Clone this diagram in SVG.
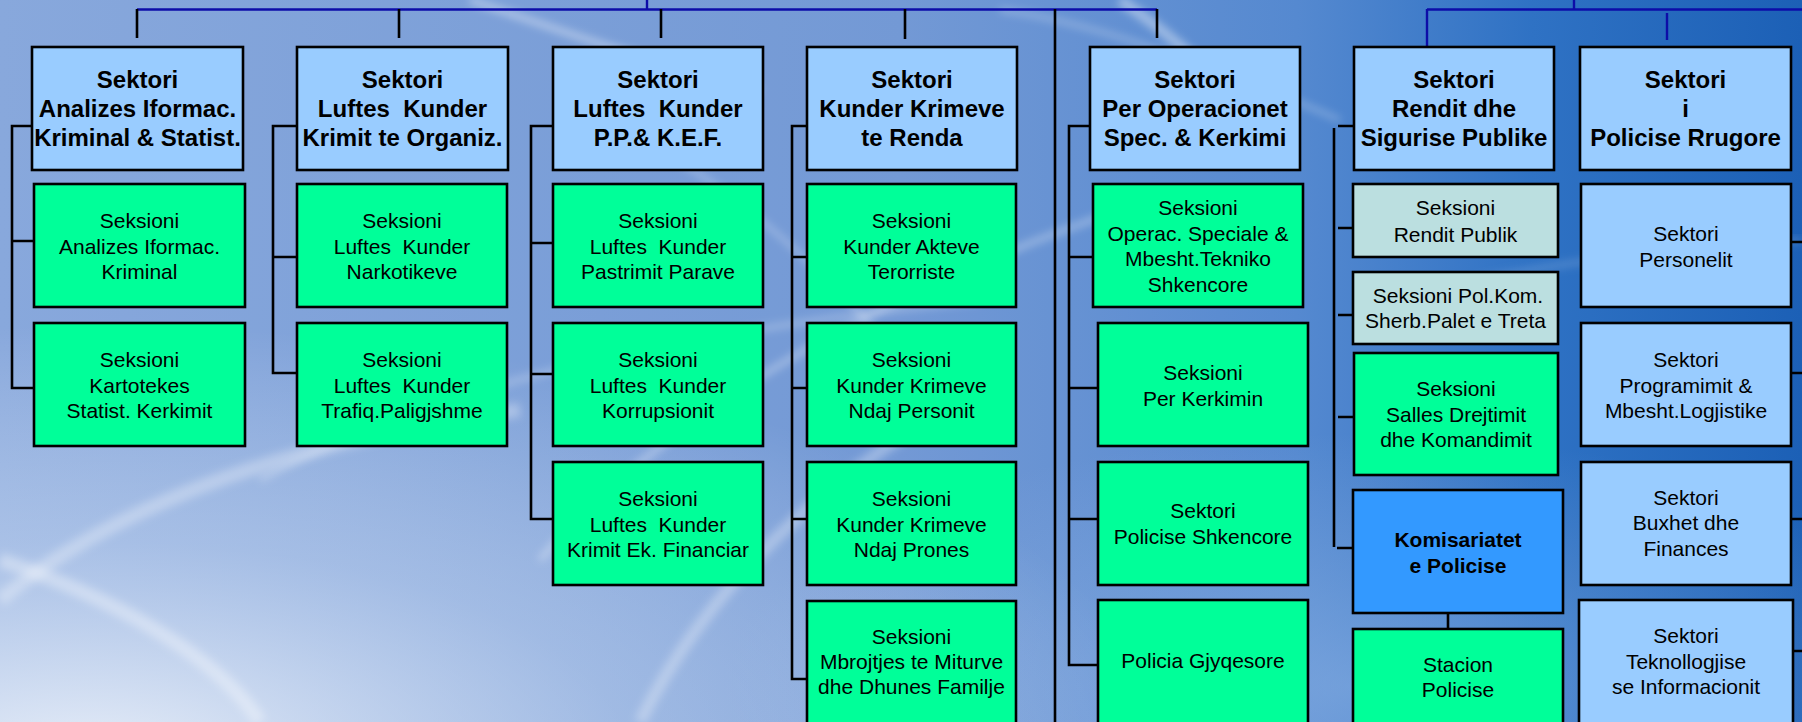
<svg xmlns="http://www.w3.org/2000/svg" width="1802" height="722" viewBox="0 0 1802 722">
<defs>
<linearGradient id="bg" x1="0" y1="0" x2="1" y2="0">
<stop offset="0" stop-color="#88a8dc"/>
<stop offset="0.5" stop-color="#7399d5"/>
<stop offset="0.72" stop-color="#5589d0"/>
<stop offset="0.85" stop-color="#2f72c4"/>
<stop offset="1" stop-color="#1c60b6"/>
</linearGradient>
<radialGradient id="glowBL" cx="0.05" cy="1.05" r="0.6" gradientUnits="objectBoundingBox">
<stop offset="0" stop-color="#ffffff" stop-opacity="0.8"/>
<stop offset="0.5" stop-color="#e6eefa" stop-opacity="0.35"/>
<stop offset="1" stop-color="#ffffff" stop-opacity="0"/>
</radialGradient>
<radialGradient id="glowBR" cx="0.75" cy="0.95" r="0.35">
<stop offset="0" stop-color="#9fc0ea" stop-opacity="0.45"/>
<stop offset="1" stop-color="#9fc0ea" stop-opacity="0"/>
</radialGradient>
<filter id="soft" x="-10%" y="-10%" width="120%" height="120%">
<feGaussianBlur stdDeviation="4"/>
</filter>
<style>
.hdr{fill:#99ccff;stroke:#000;stroke-width:2.6}
.sec{fill:#00ff99;stroke:#000;stroke-width:2.6}
.cyan{fill:#bbdfe0;stroke:#000;stroke-width:2.6}
.lb{fill:#99ccff;stroke:#000;stroke-width:2.6}
.kom{fill:#3399ff;stroke:#000;stroke-width:2.6}
.th{font-family:"Liberation Sans",Arial,sans-serif;font-weight:bold;font-size:24px;fill:#000;text-anchor:middle}
.ts{font-family:"Liberation Sans",Arial,sans-serif;font-size:21px;fill:#000;text-anchor:middle}
.tb{font-family:"Liberation Sans",Arial,sans-serif;font-weight:bold;font-size:21px;fill:#000;text-anchor:middle}
.blue{stroke:#0d0da8;stroke-width:2.4;fill:none}
.blk{stroke:#000;stroke-width:2.6;fill:none}
.sw{fill:none;stroke:#ffffff;filter:url(#soft)}
</style>
</defs>

<g id="background">
<rect x="0" y="0" width="1802" height="722" fill="url(#bg)"/>
<rect x="0" y="0" width="1802" height="722" fill="url(#glowBR)"/>
<rect x="0" y="0" width="1802" height="722" fill="url(#glowBL)"/>
<path class="sw" d="M470 0 C 560 30, 640 60, 760 90" stroke-width="6" stroke-opacity="0.45"/>
<path class="sw" d="M1120 0 C 1180 40, 1230 90, 1280 140" stroke-width="10" stroke-opacity="0.4"/>
<path class="sw" d="M1000 10 C 1080 20, 1200 60, 1340 120" stroke-width="4" stroke-opacity="0.35"/>
<path class="sw" d="M600 120 C 700 160, 820 260, 900 360" stroke-width="4" stroke-opacity="0.35"/>
<path class="sw" d="M540 560 C 660 420, 860 300, 1120 210" stroke-width="6" stroke-opacity="0.35"/>
<path class="sw" d="M260 480 C 440 380, 700 330, 980 300" stroke-width="5" stroke-opacity="0.3"/>
<path class="sw" d="M0 600 C 120 500, 300 440, 520 410" stroke-width="14" stroke-opacity="0.3"/>
<path class="sw" d="M640 722 C 700 600, 820 470, 1000 380" stroke-width="12" stroke-opacity="0.3"/>
<path class="sw" d="M0 560 C 120 600, 220 660, 260 722" stroke-width="14" stroke-opacity="0.35"/>
<path class="sw" d="M1400 300 C 1500 270, 1640 250, 1802 240" stroke-width="4" stroke-opacity="0.25"/>
</g>

<g id="connectors">
<line class="blue" x1="137" y1="9.5" x2="1157" y2="9.5"/>
<line class="blue" x1="647" y1="0" x2="647" y2="9.5"/>
<line class="blk" x1="137" y1="9" x2="137" y2="38"/>
<line class="blk" x1="399" y1="9" x2="399" y2="38"/>
<line class="blk" x1="661" y1="9" x2="661" y2="38"/>
<line class="blk" x1="905" y1="9" x2="905" y2="39"/>
<line class="blk" x1="1157" y1="9" x2="1157" y2="38"/>
<line class="blk" x1="1055" y1="9" x2="1055" y2="722"/>
<line class="blue" x1="1427" y1="9.5" x2="1802" y2="9.5"/>
<line class="blue" x1="1574" y1="0" x2="1574" y2="9.5"/>
<line class="blue" x1="1427" y1="9" x2="1427" y2="47"/>
<line class="blue" x1="1667" y1="13" x2="1667" y2="40"/>
<path class="blk" d="M32 126 H12 V388 H34 M12 241 H34"/>
<path class="blk" d="M297 126 H273 V373 H297 M273 257 H297"/>
<path class="blk" d="M553 126 H531 V519 H553 M531 243 H553 M531 374 H553"/>
<path class="blk" d="M807 126 H792 V679 H807 M792 257 H807 M792 388 H807 M792 519 H807"/>
<path class="blk" d="M1090 126 H1069 V665 H1098 M1069 257 H1093 M1069 388 H1098 M1069 519 H1098"/>
<path class="blk" d="M1334 128 V547 M1338 126 H1354 M1338 228 H1353 M1338 315 H1353 M1338 417 H1354 M1337 548 H1352"/>
<path class="blk" d="M1448 613 V629"/>
<path class="blk" d="M1791 242 H1802 M1791 373 H1802 M1791 519 H1802 M1793 651 H1802"/>
</g>

<g id="n-c1-head"><rect class="hdr" x="32" y="47" width="211" height="123"/>
<text class="th" x="137.5" y="88">Sektori</text><text class="th" x="137.5" y="117">Analizes Iformac.</text><text class="th" x="137.5" y="146">Kriminal &amp; Statist.</text></g>
<g id="n-c1-s1"><rect class="sec" x="34" y="184" width="211" height="123"/>
<text class="ts" x="139.5" y="228">Seksioni</text><text class="ts" x="139.5" y="254">Analizes Iformac.</text><text class="ts" x="139.5" y="279">Kriminal</text></g>
<g id="n-c1-s2"><rect class="sec" x="34" y="323" width="211" height="123"/>
<text class="ts" x="139.5" y="367">Seksioni</text><text class="ts" x="139.5" y="393">Kartotekes</text><text class="ts" x="139.5" y="418">Statist. Kerkimit</text></g>

<g id="n-c2-head"><rect class="hdr" x="297" y="47" width="211" height="123"/>
<text class="th" x="402.5" y="88">Sektori</text><text class="th" x="402.5" y="117" xml:space="preserve">Luftes  Kunder</text><text class="th" x="402.5" y="146">Krimit te Organiz.</text></g>
<g id="n-c2-s1"><rect class="sec" x="297" y="184" width="210" height="123"/>
<text class="ts" x="402" y="228">Seksioni</text><text class="ts" x="402" y="254" xml:space="preserve">Luftes  Kunder</text><text class="ts" x="402" y="279">Narkotikeve</text></g>
<g id="n-c2-s2"><rect class="sec" x="297" y="323" width="210" height="123"/>
<text class="ts" x="402" y="367">Seksioni</text><text class="ts" x="402" y="393" xml:space="preserve">Luftes  Kunder</text><text class="ts" x="402" y="418">Trafiq.Paligjshme</text></g>

<g id="n-c3-head"><rect class="hdr" x="553" y="47" width="210" height="123"/>
<text class="th" x="658" y="88">Sektori</text><text class="th" x="658" y="117" xml:space="preserve">Luftes  Kunder</text><text class="th" x="658" y="146">P.P.&amp; K.E.F.</text></g>
<g id="n-c3-s1"><rect class="sec" x="553" y="184" width="210" height="123"/>
<text class="ts" x="658" y="228">Seksioni</text><text class="ts" x="658" y="254" xml:space="preserve">Luftes  Kunder</text><text class="ts" x="658" y="279">Pastrimit Parave</text></g>
<g id="n-c3-s2"><rect class="sec" x="553" y="323" width="210" height="123"/>
<text class="ts" x="658" y="367">Seksioni</text><text class="ts" x="658" y="393" xml:space="preserve">Luftes  Kunder</text><text class="ts" x="658" y="418">Korrupsionit</text></g>
<g id="n-c3-s3"><rect class="sec" x="553" y="462" width="210" height="123"/>
<text class="ts" x="658" y="506">Seksioni</text><text class="ts" x="658" y="532" xml:space="preserve">Luftes  Kunder</text><text class="ts" x="658" y="557">Krimit Ek. Financiar</text></g>

<g id="n-c4-head"><rect class="hdr" x="807" y="47" width="210" height="123"/>
<text class="th" x="912" y="88">Sektori</text><text class="th" x="912" y="117">Kunder Krimeve</text><text class="th" x="912" y="146">te Renda</text></g>
<g id="n-c4-s1"><rect class="sec" x="807" y="184" width="209" height="123"/>
<text class="ts" x="911.5" y="228">Seksioni</text><text class="ts" x="911.5" y="254">Kunder Akteve</text><text class="ts" x="911.5" y="279">Terorriste</text></g>
<g id="n-c4-s2"><rect class="sec" x="807" y="323" width="209" height="123"/>
<text class="ts" x="911.5" y="367">Seksioni</text><text class="ts" x="911.5" y="393">Kunder Krimeve</text><text class="ts" x="911.5" y="418">Ndaj Personit</text></g>
<g id="n-c4-s3"><rect class="sec" x="807" y="462" width="209" height="123"/>
<text class="ts" x="911.5" y="506">Seksioni</text><text class="ts" x="911.5" y="532">Kunder Krimeve</text><text class="ts" x="911.5" y="557">Ndaj Prones</text></g>
<g id="n-c4-s4"><rect class="sec" x="807" y="601" width="209" height="123"/>
<text class="ts" x="911.5" y="644">Seksioni</text><text class="ts" x="911.5" y="669">Mbrojtjes te Miturve</text><text class="ts" x="911.5" y="694">dhe Dhunes Familje</text></g>

<g id="n-c5-head"><rect class="hdr" x="1090" y="47" width="210" height="123"/>
<text class="th" x="1195" y="88">Sektori</text><text class="th" x="1195" y="117">Per Operacionet</text><text class="th" x="1195" y="146">Spec. &amp; Kerkimi</text></g>
<g id="n-c5-s1"><rect class="sec" x="1093" y="184" width="210" height="123"/>
<text class="ts" x="1198" y="215">Seksioni</text><text class="ts" x="1198" y="240.5">Operac. Speciale &amp;</text><text class="ts" x="1198" y="266">Mbesht.Tekniko</text><text class="ts" x="1198" y="291.5">Shkencore</text></g>
<g id="n-c5-s2"><rect class="sec" x="1098" y="323" width="210" height="123"/>
<text class="ts" x="1203" y="380">Seksioni</text><text class="ts" x="1203" y="406">Per Kerkimin</text></g>
<g id="n-c5-s3"><rect class="sec" x="1098" y="462" width="210" height="123"/>
<text class="ts" x="1203" y="518">Sektori</text><text class="ts" x="1203" y="544">Policise Shkencore</text></g>
<g id="n-c5-s4"><rect class="sec" x="1098" y="600" width="210" height="124"/>
<text class="ts" x="1203" y="668">Policia Gjyqesore</text></g>

<g id="n-c6-head"><rect class="hdr" x="1354" y="47" width="200" height="123"/>
<text class="th" x="1454" y="88">Sektori</text><text class="th" x="1454" y="117">Rendit dhe</text><text class="th" x="1454" y="146">Sigurise Publike</text></g>
<g id="n-c6-s1"><rect class="cyan" x="1353" y="184" width="205" height="73"/>
<text class="ts" x="1455.5" y="215">Seksioni</text><text class="ts" x="1455.5" y="241.5">Rendit Publik</text></g>
<g id="n-c6-s2"><rect class="cyan" x="1353" y="272" width="205" height="72"/>
<text class="ts" x="1458" y="302.5">Seksioni Pol.Kom.</text><text class="ts" x="1455.5" y="328">Sherb.Palet e Treta</text></g>
<g id="n-c6-s3"><rect class="sec" x="1354" y="353" width="204" height="122"/>
<text class="ts" x="1456" y="395.5">Seksioni</text><text class="ts" x="1456" y="421.5">Salles Drejtimit</text><text class="ts" x="1456" y="447">dhe Komandimit</text></g>
<g id="n-c6-kom"><rect class="kom" x="1353" y="490" width="210" height="123"/>
<text class="tb" x="1458" y="547">Komisariatet</text><text class="tb" x="1458" y="573">e Policise</text></g>
<g id="n-c6-stacion"><rect class="sec" x="1353" y="629" width="210" height="123"/>
<text class="ts" x="1458" y="672">Stacion</text><text class="ts" x="1458" y="697">Policise</text></g>

<g id="n-c7-head"><rect class="hdr" x="1580" y="47" width="211" height="123"/>
<text class="th" x="1685.5" y="88">Sektori</text><text class="th" x="1685.5" y="117">i</text><text class="th" x="1685.5" y="146">Policise Rrugore</text></g>
<g id="n-c7-s1"><rect class="lb" x="1581" y="184" width="210" height="123"/>
<text class="ts" x="1686" y="241">Sektori</text><text class="ts" x="1686" y="267">Personelit</text></g>
<g id="n-c7-s2"><rect class="lb" x="1581" y="323" width="210" height="123"/>
<text class="ts" x="1686" y="367">Sektori</text><text class="ts" x="1686" y="392.5">Programimit &amp;</text><text class="ts" x="1686" y="418">Mbesht.Logjistike</text></g>
<g id="n-c7-s3"><rect class="lb" x="1581" y="462" width="210" height="123"/>
<text class="ts" x="1686" y="504.5">Sektori</text><text class="ts" x="1686" y="530">Buxhet dhe</text><text class="ts" x="1686" y="555.5">Finances</text></g>
<g id="n-c7-s4"><rect class="lb" x="1579" y="600" width="214" height="124"/>
<text class="ts" x="1686" y="643">Sektori</text><text class="ts" x="1686" y="669">Teknollogjise</text><text class="ts" x="1686" y="694">se Informacionit</text></g>
</svg>
